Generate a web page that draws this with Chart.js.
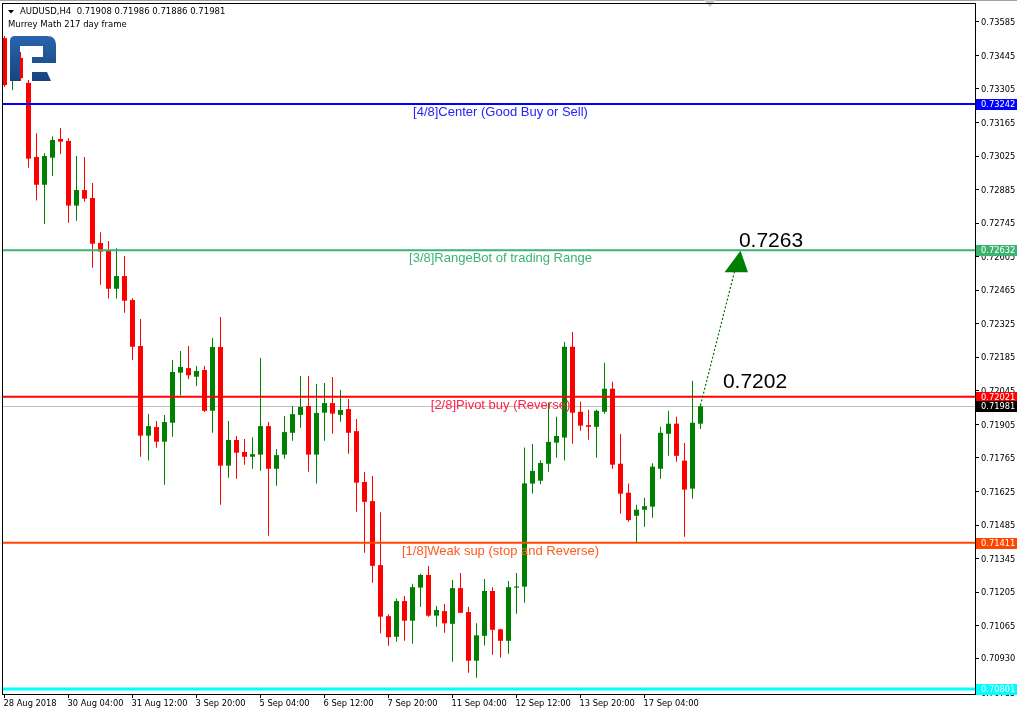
<!DOCTYPE html>
<html>
<head>
<meta charset="utf-8">
<script src="https://cdn.jsdelivr.net/npm/chart.js@4.4.1/dist/chart.umd.min.js"></script>
<style>
html,body{margin:0;padding:0;background:#fff;}
#wrap{width:1017px;height:713px;position:relative;}
</style>
</head>
<body>
<div id="wrap"><canvas id="chart"></canvas></div>
<script>
// AUDUSD H4, 28 Aug - 17 Sep 2018
const symbol = "AUDUSD,H4";
const subtitle = "Murrey Math 217 day frame";

const opens = [0.73517,0.73342,0.73434,0.73330,0.73021,0.72905,0.73018,0.73096,0.73088,0.72818,
0.72883,0.72850,0.72662,0.72630,0.72471,0.72524,0.72424,0.72232,0.71858,0.71894,
0.71833,0.71912,0.72121,0.72140,0.72104,0.72132,0.71962,0.72228,0.71733,0.71840,
0.71790,0.71770,0.71779,0.71898,0.71720,0.71779,0.71870,0.71945,0.71982,0.71779,
0.71954,0.71994,0.71945,0.71969,0.71877,0.71665,0.71585,0.71318,0.71105,0.71019,
0.71168,0.71086,0.71224,0.71277,0.71107,0.71126,0.71073,0.71222,0.71122,0.70919,
0.71023,0.71210,0.71050,0.71002,0.71224,0.71228,0.71658,0.71670,0.71741,0.71829,
0.71850,0.72229,0.71958,0.71902,0.71895,0.71958,0.72054,0.71741,0.71620,0.71524,
0.71549,0.71562,0.71720,0.71866,0.71908,0.71754,0.71637,0.71908];
const highs = [0.73526,0.73446,0.73459,0.73342,0.73120,0.73036,0.73106,0.73142,0.73099,0.73025,
0.73021,0.72912,0.72707,0.72670,0.72640,0.72608,0.72431,0.72345,0.71948,0.71919,
0.71944,0.72174,0.72211,0.72232,0.72149,0.72149,0.72266,0.72353,0.71919,0.71857,
0.71844,0.71852,0.72182,0.71915,0.71802,0.71940,0.71982,0.72107,0.72107,0.72074,
0.72078,0.72103,0.72049,0.72011,0.71928,0.71706,0.71690,0.71539,0.71113,0.71179,
0.71189,0.71240,0.71282,0.71314,0.71147,0.71156,0.71256,0.71285,0.71144,0.71075,
0.71260,0.71226,0.71052,0.71252,0.71285,0.71809,0.71823,0.71756,0.71996,0.71937,
0.72249,0.72291,0.72000,0.71966,0.71966,0.72162,0.72083,0.71865,0.71659,0.71570,
0.71599,0.71743,0.71895,0.71962,0.71937,0.71827,0.72087,0.71986];
const lows = [0.73313,0.73300,0.73338,0.72976,0.72839,0.72741,0.72942,0.73033,0.72747,0.72755,
0.72834,0.72559,0.72488,0.72430,0.72430,0.72371,0.72174,0.71770,0.71754,0.71808,
0.71653,0.71854,0.72026,0.72093,0.72065,0.71957,0.71870,0.71570,0.71683,0.71678,
0.71737,0.71720,0.71712,0.71440,0.71649,0.71762,0.71837,0.71891,0.71708,0.71658,
0.71837,0.71866,0.71916,0.71783,0.71541,0.71370,0.71244,0.71033,0.70982,0.70998,
0.71002,0.70990,0.71144,0.71103,0.71061,0.71036,0.70915,0.71118,0.70869,0.70848,
0.70983,0.70944,0.70931,0.70948,0.71115,0.71161,0.71617,0.71655,0.71708,0.71766,
0.71754,0.71824,0.71879,0.71841,0.71766,0.71950,0.71720,0.71532,0.71499,0.71411,
0.71478,0.71516,0.71678,0.71774,0.71749,0.71436,0.71595,0.71886];
const closes = [0.73321,0.73426,0.73350,0.73014,0.72905,0.73025,0.73092,0.73085,0.72818,0.72883,
0.72847,0.72659,0.72626,0.72471,0.72524,0.72421,0.72229,0.71858,0.71898,0.71833,
0.71915,0.72124,0.72145,0.72110,0.72128,0.71962,0.72228,0.71733,0.71840,0.71787,
0.71770,0.71781,0.71898,0.71720,0.71777,0.71873,0.71948,0.71978,0.71779,0.71953,
0.71994,0.71950,0.71965,0.71870,0.71662,0.71582,0.71315,0.71103,0.71017,0.71168,
0.71086,0.71226,0.71277,0.71107,0.71131,0.71075,0.71222,0.71119,0.70919,0.71025,
0.71210,0.71048,0.71002,0.71226,0.71229,0.71659,0.71711,0.71744,0.71832,0.71857,
0.72229,0.71954,0.71900,0.71895,0.71962,0.72054,0.71737,0.71616,0.71506,0.71549,
0.71564,0.71729,0.71870,0.71908,0.71774,0.71633,0.71912,0.71981];

// x axis: bar index of each time label
const tickIdx = [0,8,16,24,32,40,48,56,64,72,80];
const tickLabels = ["28 Aug 2018","30 Aug 04:00","31 Aug 12:00","3 Sep 20:00","5 Sep 04:00",
  "6 Sep 12:00","7 Sep 20:00","11 Sep 04:00","12 Sep 12:00","13 Sep 20:00","17 Sep 04:00"];

// price axis
const yTicks = [0.73585,0.73445,0.73305,0.73165,0.73025,0.72885,0.72745,0.72605,0.72465,0.72325,
  0.72185,0.72045,0.71905,0.71765,0.71625,0.71485,0.71345,0.71205,0.71065,0.70930,0.70785];

// Murrey math levels
const levelValues = [0.73242,0.72632,0.72021,0.71411,0.70801];
const levelNames = ["[4/8]Center (Good Buy or Sell)","[3/8]RangeBot of trading Range",
  "[2/8]Pivot buy (Reverse)","[1/8]Weak sup (stop and Reverse)","[0/8]Ultimate Support"];
const levelColors = ["#0000FF","#3CB371","#FF0000","#FF4500","#00FFFF"];
const levelTextColors = ["#2323FF","#3CB371","#FF2347","#FF5A1E","#00FFFF"];
const levelWidths = [2,2,2,2,3];

// forecast annotation
const target = 0.7263;
const pivot = 0.7202;

const bid = closes[closes.length-1];
const idx = opens.map((_, i) => i);
const bull = "#008000", bear = "#FF0000";
const candleColors = closes.map((c, i) => c >= opens[i] ? bull : bear);
const font = "'Liberation Sans', Arial, sans-serif";
const smallFont = "'DejaVu Sans', Verdana, sans-serif";

function drawLogo(ctx) {
  const g = ctx.createLinearGradient(0, 36, 0, 81);
  g.addColorStop(0, "#2a64ad");
  g.addColorStop(1, "#174480");
  ctx.fillStyle = g;
  // stem
  ctx.beginPath();
  ctx.moveTo(10, 81);
  ctx.lineTo(10, 41);
  ctx.quadraticCurveTo(10, 36, 15, 36);
  ctx.lineTo(20, 36);
  ctx.lineTo(20, 81);
  ctx.closePath();
  ctx.fill();
  // bowl: top bar, right side, lower bar
  ctx.beginPath();
  ctx.moveTo(20, 36);
  ctx.lineTo(47, 36);
  ctx.quadraticCurveTo(56, 36, 56, 45);
  ctx.lineTo(56, 63);
  ctx.lineTo(32, 63);
  ctx.lineTo(32, 57);
  ctx.lineTo(43, 57);
  ctx.lineTo(43, 46);
  ctx.lineTo(20, 46);
  ctx.closePath();
  ctx.fill();
  // leg
  ctx.beginPath();
  ctx.moveTo(32, 72);
  ctx.lineTo(47, 72);
  ctx.lineTo(51, 81);
  ctx.lineTo(32, 81);
  ctx.closePath();
  ctx.fill();
}

const mt4 = {
  id: "mt4",
  beforeDatasetsDraw(chart) {
    const {ctx, chartArea: a, scales: {y}} = chart;
    const yb = Math.round(y.getPixelForValue(bid)) + 0.5;
    ctx.save();
    ctx.strokeStyle = "#C0C0C0";
    ctx.lineWidth = 1;
    ctx.beginPath();
    ctx.moveTo(a.left, yb);
    ctx.lineTo(a.right, yb);
    ctx.stroke();
    ctx.restore();
  },
  afterDatasetsDraw(chart) {
    const {ctx, chartArea: a, scales: {x, y}} = chart;
    ctx.save();
    ctx.beginPath();
    ctx.rect(a.left, a.top, a.right - a.left, a.bottom - a.top);
    ctx.clip();

    // level lines + names
    const cx = x.getPixelForValue(62);
    levelValues.forEach((v, i) => {
      const py = y.getPixelForValue(v);
      ctx.strokeStyle = levelColors[i];
      ctx.lineWidth = levelWidths[i];
      ctx.beginPath();
      ctx.moveTo(a.left, py);
      ctx.lineTo(a.right, py);
      ctx.stroke();
      ctx.fillStyle = levelTextColors[i];
      ctx.font = "13px " + font;
      ctx.textAlign = "center";
      ctx.textBaseline = "alphabetic";
      ctx.fillText(levelNames[i], cx, py + (i === 4 ? 14 : 12));
    });

    // dotted forecast arrow
    const x0 = x.getPixelForValue(87), y0 = y.getPixelForValue(bid);
    const tx = x.getPixelForValue(92), ty = y.getPixelForValue(target);
    ctx.strokeStyle = "#007000";
    ctx.lineWidth = 1.2;
    ctx.setLineDash([2, 2]);
    ctx.beginPath();
    ctx.moveTo(x0, y0 - 1);
    ctx.lineTo(tx - 6, ty + 21);
    ctx.stroke();
    ctx.setLineDash([]);
    ctx.fillStyle = "#008000";
    ctx.beginPath();
    ctx.moveTo(tx, ty);
    ctx.lineTo(tx + 7.5, ty + 21.5);
    ctx.lineTo(tx - 16, ty + 21.5);
    ctx.closePath();
    ctx.fill();

    // price texts
    ctx.fillStyle = "#000";
    ctx.font = "21px " + font;
    ctx.textAlign = "left";
    ctx.fillText(target.toFixed(4), x.getPixelForValue(91.8), ty - 3.5);
    ctx.fillText(pivot.toFixed(4), x.getPixelForValue(89.8), y.getPixelForValue(pivot) - 9);

    drawLogo(ctx);
    ctx.restore();
  },
  afterDraw(chart) {
    const {ctx, chartArea: a, scales: {y}} = chart;
    ctx.save();
    // window edge and chart shift marker
    ctx.fillStyle = "#A0A0A0";
    ctx.fillRect(0, 0, chart.width, 1);
    ctx.fillStyle = "#C8C8C8";
    ctx.beginPath();
    ctx.moveTo(704, 0);
    ctx.lineTo(716, 0);
    ctx.lineTo(710, 7);
    ctx.closePath();
    ctx.fill();
    // frame
    ctx.strokeStyle = "#000";
    ctx.lineWidth = 1;
    ctx.strokeRect(a.left - 0.5, a.top + 0.5, a.right - a.left + 1, a.bottom - a.top);

    // price boxes on the axis
    const boxVals = levelValues.slice(0, 3).concat([bid], levelValues.slice(3));
    const boxCols = levelColors.slice(0, 3).concat(["#000000"], levelColors.slice(3));
    ctx.font = "8.3px " + smallFont;
    ctx.textAlign = "left";
    ctx.textBaseline = "middle";
    boxVals.forEach((v, i) => {
      const py = y.getPixelForValue(v);
      ctx.fillStyle = boxCols[i];
      ctx.fillRect(a.right + 1, Math.round(py) - 5, chart.width - a.right - 1, 11);
      ctx.fillStyle = "#fff";
      ctx.fillText(v.toFixed(5), a.right + 6, Math.round(py) + 0.5);
    });

    // header
    ctx.fillStyle = "#000";
    ctx.beginPath();
    ctx.moveTo(8, 10);
    ctx.lineTo(14, 10);
    ctx.lineTo(11, 13.5);
    ctx.closePath();
    ctx.fill();
    const n = closes.length - 1;
    ctx.font = "8.5px " + smallFont;
    ctx.fillText(symbol + "  " + [opens[n], highs[n], lows[n], closes[n]].map(v => v.toFixed(5)).join(" "), 20, 12);
    ctx.fillText(subtitle, 8, 25);
    ctx.restore();
  }
};

new Chart(document.getElementById("chart"), {
  type: "bar",
  data: {
    datasets: [
      {
        label: "wick",
        data: idx.map(i => ({x: i, y: [lows[i], highs[i]]})),
        backgroundColor: candleColors,
        barThickness: 1,
        grouped: false,
        inflateAmount: 0,
        borderWidth: 0
      },
      {
        label: "body",
        data: idx.map(i => ({x: i, y: [opens[i], closes[i]]})),
        backgroundColor: candleColors,
        barThickness: 5,
        grouped: false,
        inflateAmount: 0,
        borderWidth: 0
      }
    ]
  },
  options: {
    responsive: true,
    maintainAspectRatio: false,
    animation: false,
    devicePixelRatio: 1,
    events: [],
    layout: {padding: {left: 3, top: 3, right: 0, bottom: 0}},
    plugins: {legend: {display: false}, tooltip: {enabled: false}},
    scales: {
      x: {
        type: "linear",
        min: -0.1875,
        max: 121.3125,
        offset: false,
        grid: {display: true, drawOnChartArea: false, tickLength: 4, tickColor: "#000", offset: false},
        border: {display: false},
        ticks: {
          autoSkip: false,
          maxRotation: 0,
          align: "start",
          padding: 1,
          labelOffset: -1,
          color: "#000",
          font: {family: smallFont, size: 8.3},
          callback: (v) => {
            const k = tickIdx.indexOf(v);
            return k < 0 ? "" : tickLabels[k];
          }
        },
        afterBuildTicks: (s) => { s.ticks = tickIdx.map(v => ({value: v})); },
        afterFit: (s) => { s.height = 19; s.paddingLeft = 0; s.paddingRight = 0; }
      },
      y: {
        type: "linear",
        position: "right",
        min: 0.707802,
        max: 0.7366343,
        grid: {display: true, drawOnChartArea: false, tickLength: 4, tickColor: "#000"},
        border: {display: false},
        ticks: {
          color: "#000",
          padding: 2,
          labelOffset: 1,
          font: {family: smallFont, size: 8.3},
          callback: (v) => v.toFixed(5)
        },
        afterBuildTicks: (s) => { s.ticks = yTicks.map(v => ({value: v})); },
        afterFit: (s) => { s.width = 42; s.paddingTop = 0; s.paddingBottom = 0; }
      }
    }
  },
  plugins: [mt4]
});
</script>
</body>
</html>
